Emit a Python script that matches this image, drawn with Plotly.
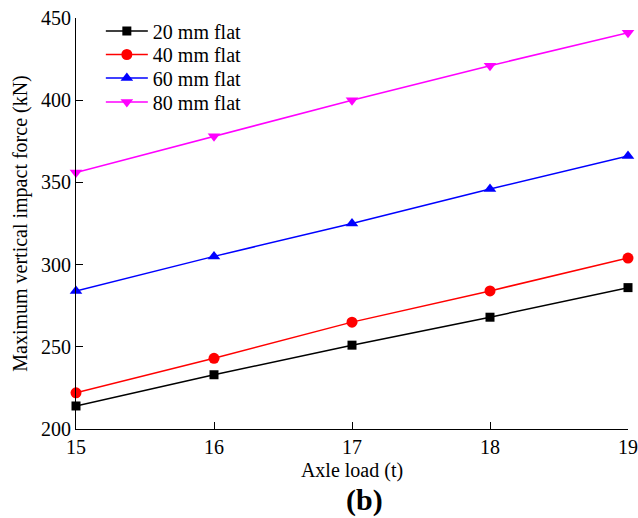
import plotly.graph_objects as go

axle_load = [15, 16, 17, 18, 19]
series_names = ["20 mm flat", "40 mm flat", "60 mm flat", "80 mm flat"]
flat_20 = [214, 233, 251, 268, 286]
flat_40 = [222, 243, 265, 284, 304]
flat_60 = [284, 305, 325, 346, 366]
flat_80 = [356, 378, 400, 421, 441]

colors = ["#000000", "#ff0000", "#0000ff", "#ff00ff"]
symbols = ["square", "circle", "triangle-up", "triangle-down"]
sizes = [9, 11, 11, 11]
legend_ids = ["legend", "legend2", "legend3", "legend4"]
legend_rows_px = [31, 54.5, 78, 102]  # row centres (px from top)

font_family = "Liberation Serif, Times New Roman, serif"
W, H = 638, 518
ML, MR, MT, MB = 76, 10, 18, 89
plot_h = H - MT - MB

fig = go.Figure()
for name, vals, c, s, sz, lg in zip(series_names, [flat_20, flat_40, flat_60, flat_80],
                                    colors, symbols, sizes, legend_ids):
    fig.add_trace(go.Scatter(
        x=axle_load, y=vals, name=name, mode="lines+markers",
        line=dict(color=c, width=1.5),
        marker=dict(symbol=s, size=sz, color=c),
        cliponaxis=False, legend=lg,
    ))

legend_cfg = {}
for lg, row in zip(legend_ids, legend_rows_px):
    legend_cfg[lg] = dict(
        x=0.045, y=(H - MB - row) / plot_h, xanchor="left", yanchor="middle",
        font=dict(size=20, family=font_family), bgcolor="rgba(0,0,0,0)",
        itemwidth=42, tracegroupgap=0,
    )

fig.update_layout(
    width=W, height=H,
    margin=dict(l=ML, r=MR, t=MT, b=MB, autoexpand=False),
    paper_bgcolor="white", plot_bgcolor="white",
    font=dict(family=font_family, size=20, color="black"),
    showlegend=True,
    xaxis=dict(range=[15, 19], tickvals=[15, 16, 17, 18, 19], showgrid=False, zeroline=False,
               automargin=False,
               showline=True, linecolor="black", linewidth=1, ticks="inside", ticklen=7,
               tickcolor="black", title=dict(text="Axle load (t)", font=dict(size=20), standoff=5)),
    yaxis=dict(range=[200, 450], tickvals=[200, 250, 300, 350, 400, 450], showgrid=False, zeroline=False,
               automargin=False,
               showline=True, linecolor="black", linewidth=1, ticks="inside", ticklen=7,
               tickcolor="black",
               title=dict(text="Maximum vertical impact force (kN)", font=dict(size=20), standoff=8)),
    annotations=[dict(text="<b>(b)</b>", xref="paper", yref="paper", x=(364 - ML) / (W - ML - MR),
                      y=-(500 - (H - MB)) / plot_h,
                      xanchor="center", yanchor="middle", showarrow=False,
                      font=dict(size=30, family=font_family))],
    **legend_cfg,
)

fig.write_html("out.html")
